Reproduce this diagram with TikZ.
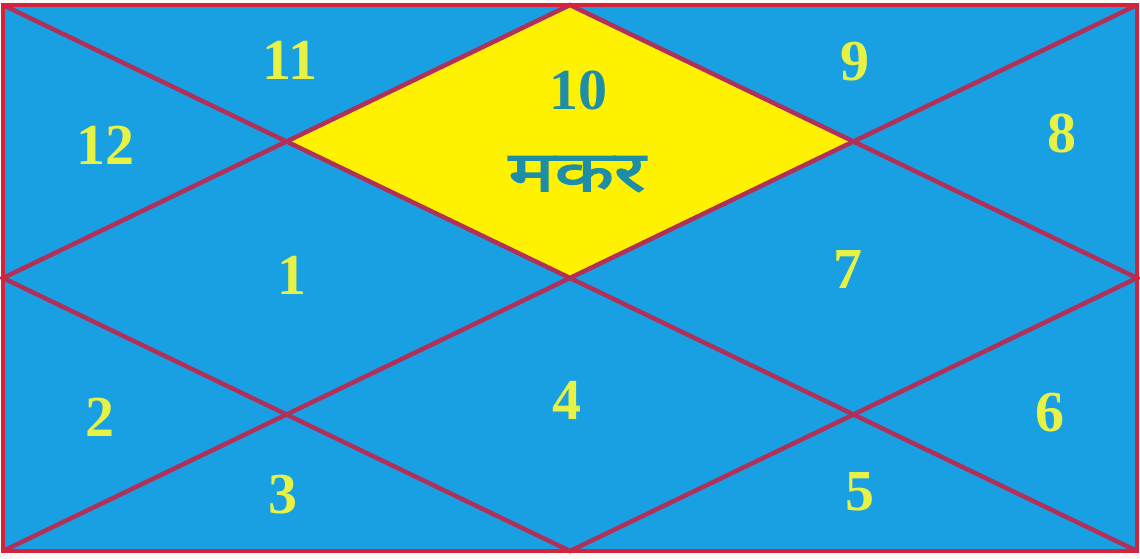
\documentclass[tikz,border=0pt]{standalone}
\usepackage{fontspec}
\setmainfont{Liberation Serif}
\newfontfamily\devafont[Script=Devanagari, FakeBold=2.5]{Noto Sans}
\usepackage{xcolor}
\usepackage{graphicx}
\usetikzlibrary{positioning}

\definecolor{chartblue}{HTML}{18A0E2}
\definecolor{framered}{HTML}{D4243C}
\definecolor{linered}{HTML}{B0305A}
\definecolor{signyellow}{HTML}{FFF200}
\definecolor{numyellow}{HTML}{E8F244}
\definecolor{signteal}{HTML}{1E8DA6}

\begin{document}
\begin{tikzpicture}[
    x=1pt, y=-1pt,
    house/.style={font=\bfseries\fontsize{58}{58}\selectfont, text=numyellow, inner sep=0pt},
    signtext/.style={font=\bfseries\fontsize{58}{58}\selectfont, text=signteal, inner sep=0pt},
    divider/.style={draw=linered, line width=4.5pt},
    frame/.style={draw=framered, line width=4.5pt}
]
\useasboundingbox (0,0) rectangle (1140,559);
\fill[white!92!pink] (0,0) rectangle (1140,559);

% corners and midpoints of the chart
\coordinate (tl) at (3,5);
\coordinate (tr) at (1137,5);
\coordinate (bl) at (3,551);
\coordinate (br) at (1137,551);
\coordinate (tm) at (570,5);
\coordinate (lm) at (3,278);
\coordinate (rm) at (1137,278);
\coordinate (bm) at (570,551);

\fill[chartblue] (tl) rectangle (br);
\fill[signyellow] (tm) -- (286.5,141.5) -- (570,278) -- (853.5,141.5) -- cycle;

\draw[divider] (tl) -- (br);
\draw[divider] (tr) -- (bl);
\draw[divider] (tm) -- (rm) -- (bm) -- (lm) -- cycle;
\draw[frame] (tl) rectangle (br);

% houses
\node[signtext] (h10) at (578,90) {10};
\node[signtext, font=\devafont\fontsize{56}{56}\selectfont] (rashi) at (577,174) {\scalebox{1.38}[1]{मकर}};
\node[house] (h11) at (290,60) {11};
\node[house] (h12) at (105,145) {12};
\node[house] (h9) at (855,62) {9};
\node[house] (h8) at (1062,133) {8};
\node[house] (h1) at (292,275) {1};
\node[house] (h7) at (848,270) {7};
\node[house] (h4) at (567,400) {4};
\node[house] (h2) at (100,417) {2};
\node[house] (h6) at (1050,413) {6};
\node[house] (h3) at (283,495) {3};
\node[house] (h5) at (860,492) {5};
\end{tikzpicture}
\end{document}
